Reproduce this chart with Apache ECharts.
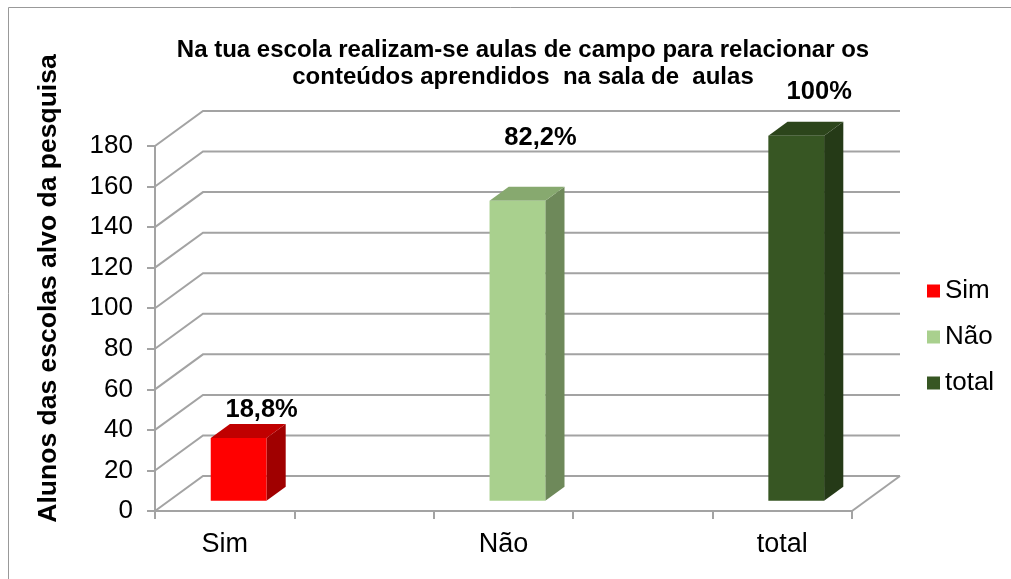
<!DOCTYPE html>
<html><head><meta charset="utf-8">
<script src="https://cdn.jsdelivr.net/npm/echarts@6/dist/echarts.min.js"></script>
<style>html,body{margin:0;padding:0;background:#fff}#c{width:1011px;height:579px}</style>
</head><body><div id="c"></div>
<script>
// ---- data ----
const titleLines = ['Na tua escola realizam-se aulas de campo para relacionar os', 'conteúdos aprendidos  na sala de  aulas'];
const yAxisTitle = 'Alunos das escolas alvo da pesquisa';
const categories = ['Sim', 'Não', 'total'];
const axisCategories = ['Sim', ' ', 'Não', '  ', 'total'];
const values = [31, 148, 180];
const percentLabels = ['18,8%', '82,2%', '100%'];
const yTicks = [0, 20, 40, 60, 80, 100, 120, 140, 160, 180];
const yMin = 0, yMax = 180, yInterval = 20;

// ---- style ----
const FONT = '"Liberation Sans", Arial, sans-serif';
const frontColors = ['#FF0000', '#A9D08E', '#375623'];
const topColors = ['#C00000', '#87A96F', '#2C451B'];
const sideColors = ['#A00000', '#6E895A', '#253A17'];
const gridColor = '#A3A3A3';
const DEPTH = [48, -35];      // back-wall offset
const F0 = 0.29, F1 = 0.69;   // bar depth span
const BAR_W = 0.4;            // fraction of band
const labelRaise = [14, 49, 30];
const labelShiftX = 23;

const chart = echarts.init(document.getElementById('c'), null, {renderer: 'canvas'});

function gridRender(params, api) {
  const cs = params.coordSys;
  const y = api.coord([0, api.value(1)])[1];
  const x0 = cs.x;
  const children = [{
    type: 'polyline',
    shape: {points: [[x0, y], [x0 + DEPTH[0], y + DEPTH[1]], [cs.x + cs.width + DEPTH[0], y + DEPTH[1]]]},
    style: {stroke: gridColor, lineWidth: 2, fill: null}
  }];
  if (params.dataIndex === 0) {
    const xr = cs.x + cs.width;
    children.push({
      type: 'line',
      shape: {x1: xr, y1: y, x2: xr + DEPTH[0], y2: y + DEPTH[1]},
      style: {stroke: gridColor, lineWidth: 2}
    });
  }
  return {type: 'group', children};
}

function makeBarRender(i) {
  return function (params, api) {
    const cat = api.value(0), val = api.value(1);
    const base = api.coord([cat, 0]);
    const top = api.coord([cat, val]);
    const band = api.size([1, 0])[0];
    const w = band * BAR_W;
    const ox = DEPTH[0] * F0, oy = DEPTH[1] * F0;
    const dx = DEPTH[0] * (F1 - F0), dy = DEPTH[1] * (F1 - F0);
    const xl = base[0] - w / 2 + ox, xr = base[0] + w / 2 + ox;
    const yb = base[1] + oy, yt = top[1] + oy;
    const lx = (xl + xr) / 2 + labelShiftX;
    const ly = yt + dy - labelRaise[i];
    return {
      type: 'group',
      children: [
        {type: 'polygon', shape: {points: [[xr, yb], [xr, yt], [xr + dx, yt + dy], [xr + dx, yb + dy]]}, style: {fill: sideColors[i]}},
        {type: 'polygon', shape: {points: [[xl, yt], [xr, yt], [xr + dx, yt + dy], [xl + dx, yt + dy]]}, style: {fill: topColors[i]}},
        {type: 'rect', shape: {x: xl, y: yt, width: xr - xl, height: yb - yt}, style: {fill: frontColors[i]}},
        {type: 'text', x: lx, y: ly, style: {text: percentLabels[i], font: 'bold 25.5px ' + FONT, fill: '#000',
          align: 'center', verticalAlign: 'middle', textAlign: 'center', textVerticalAlign: 'middle'}}
      ]
    };
  };
}

const barSeries = categories.map((name, i) => ({
  type: 'custom',
  name: name,
  coordinateSystem: 'cartesian2d',
  clip: false,
  silent: true,
  z: 5,
  itemStyle: {color: frontColors[i]},
  encode: {x: 0, y: 1},
  data: [[axisCategories.indexOf(name), values[i]]],
  renderItem: makeBarRender(i)
}));

const option = {
  animation: false,
  backgroundColor: '#fff',
  grid: {left: 155, right: 159, top: 146, bottom: 68, containLabel: false, outerBoundsMode: 'none'},
  xAxis: {
    type: 'category',
    data: axisCategories,
    boundaryGap: true,
    axisLine: {show: true, lineStyle: {color: gridColor, width: 2}},
    axisTick: {show: true, length: 8, interval: 0, lineStyle: {color: gridColor, width: 2}},
    axisLabel: {interval: 0, margin: 20, color: '#000', fontSize: 27, fontFamily: FONT},
    splitLine: {show: false}
  },
  yAxis: {
    type: 'value',
    min: yMin, max: yMax, interval: yInterval,
    axisLine: {show: true, lineStyle: {color: gridColor, width: 2}},
    axisTick: {show: true, length: 8, lineStyle: {color: gridColor, width: 2}},
    axisLabel: {margin: 22, color: '#000', fontSize: 26, fontFamily: FONT},
    splitLine: {show: false}
  },
  legend: {
    orient: 'vertical',
    left: 922, top: 273,
    data: categories,
    icon: 'rect',
    itemWidth: 13, itemHeight: 13,
    itemGap: 20,
    selectedMode: false,
    textStyle: {color: '#000', fontSize: 26, fontFamily: FONT, lineHeight: 26}
  },
  graphic: [
    {type: 'rect', silent: true, shape: {x: 8.5, y: 7.5, width: 1100, height: 700},
      style: {stroke: '#999', fill: null, lineWidth: 1}},
    {type: 'text', silent: true, x: 523, y: 36.5,
      style: {text: titleLines.join('\n'), font: 'bold 24px ' + FONT, fill: '#000', lineHeight: 27,
        align: 'center', verticalAlign: 'top', textAlign: 'center', textVerticalAlign: 'top'}},
    {type: 'text', silent: true, x: 49, y: 288.5, rotation: Math.PI / 2,
      style: {text: yAxisTitle, font: 'bold 26.5px ' + FONT, fill: '#000',
        align: 'center', verticalAlign: 'middle', textAlign: 'center', textVerticalAlign: 'middle'}}
  ],
  series: [{
    type: 'custom',
    name: 'grid',
    coordinateSystem: 'cartesian2d',
    clip: false,
    silent: true,
    z: 1,
    encode: {x: 0, y: 1},
    data: yTicks.map(v => [0, v]),
    renderItem: gridRender
  }].concat(barSeries)
};
chart.setOption(option);
</script>
</body></html>
